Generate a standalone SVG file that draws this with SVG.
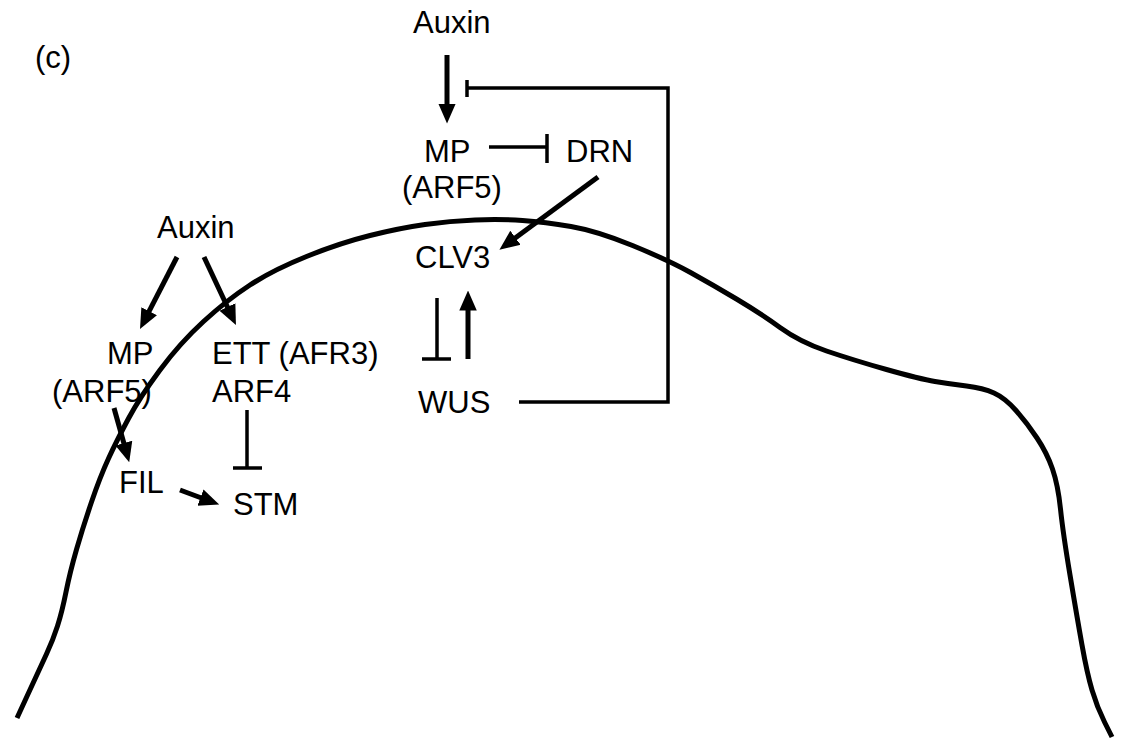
<svg xmlns="http://www.w3.org/2000/svg" width="1124" height="749" viewBox="0 0 1124 749">
<style>
text{font-family:"Liberation Sans",Arial,sans-serif;font-size:31px;fill:#000}
.arr{stroke:#000;stroke-width:5;fill:none;marker-end:url(#ah)}
.inh{stroke:#000;stroke-width:3.5;fill:none}
.bar{stroke:#000;stroke-width:3.5}
.tissue{stroke:#000;stroke-width:5;fill:none;stroke-linecap:butt}
</style>
<defs>
<marker id="ah" markerUnits="userSpaceOnUse" markerWidth="20" markerHeight="20" viewBox="0 0 16 14" refX="2" refY="7" orient="auto">
<path d="M0,0 L16,7 L0,14 Z" fill="#000"/>
</marker>
</defs>
<rect width="1124" height="749" fill="#fff"/>
<path class="tissue" d="M17,718 L28.5,693 Q40,668 46.5,654 Q53,640 57.5,626 Q62,612 66,592 Q70,572 76.5,549.5 Q83,527 91.5,502 Q100,477 108.5,458.5 Q117,440 128.5,418.5 Q140,397 160,370 Q180,343 203.5,321.5 Q227,300 250,285 Q273,270 306.5,256.5 Q340,243 370,235.5 Q400,228 425,224.5 Q450,221 475,220 Q500,219 522.5,220.5 Q545,222 571,226.5 Q597,231 632.5,245.5 Q668,260 690.5,272.5 Q713,285 736.5,299 Q760,313 780,327.5 Q800,342 826.5,351 Q853,360 886.5,369.5 Q920,379 935,381.5 Q950,384 966.5,386 Q983,388 994,393 Q1005,398 1016,410.5 Q1027,423 1037,438 Q1047,453 1052.5,469 Q1058,485 1060.5,509 Q1063,533 1070,575 Q1077,617 1082,645 Q1087,673 1092,690 Q1097,707 1104.5,722 L1112,737"/>
<text x="35" y="68">(c)</text>
<g id="auxin-top"><text x="413" y="33">Auxin</text></g>
<g id="mp-top"><text x="424" y="162">MP</text><text x="402" y="198">(ARF5)</text></g>
<g id="drn"><text x="566" y="162">DRN</text></g>
<g id="clv3"><text x="415" y="268">CLV3</text></g>
<g id="wus"><text x="418" y="413">WUS</text></g>
<g id="auxin-left"><text x="157" y="238">Auxin</text></g>
<g id="mp-left"><text x="107" y="364">MP</text><text x="52" y="402">(ARF5)</text></g>
<g id="ett"><text x="212" y="364">ETT (AFR3)</text><text x="212" y="402">ARF4</text></g>
<g id="fil"><text x="119" y="493">FIL</text></g>
<g id="stm"><text x="233" y="515">STM</text></g>
<g id="connectors">
<line class="arr" x1="447" y1="55" x2="447" y2="106"/>
<line class="arr" x1="598" y1="177" x2="513.5" y2="239.3"/>
<line class="arr" x1="468" y1="359" x2="468" y2="308"/>
<line class="arr" x1="177" y1="257" x2="148" y2="313.4"/>
<line class="arr" x1="204" y1="257" x2="228.5" y2="309.2"/>
<line class="arr" x1="114" y1="408" x2="124.5" y2="445.5"/>
<line class="arr" x1="180" y1="490" x2="202.8" y2="498.5"/>
<line class="inh" x1="489" y1="147" x2="547" y2="147"/>
<line class="bar" x1="547" y1="134" x2="547" y2="163"/>
<polyline class="inh" points="519,402 668,402 668,88 467,88"/>
<line class="bar" x1="467" y1="80" x2="467" y2="97"/>
<line class="inh" x1="437" y1="298" x2="437" y2="359"/>
<line class="bar" x1="422" y1="359" x2="451" y2="359"/>
<line class="inh" x1="247" y1="410" x2="247" y2="468"/>
<line class="bar" x1="233" y1="468" x2="262" y2="468"/>
</g>
</svg>
